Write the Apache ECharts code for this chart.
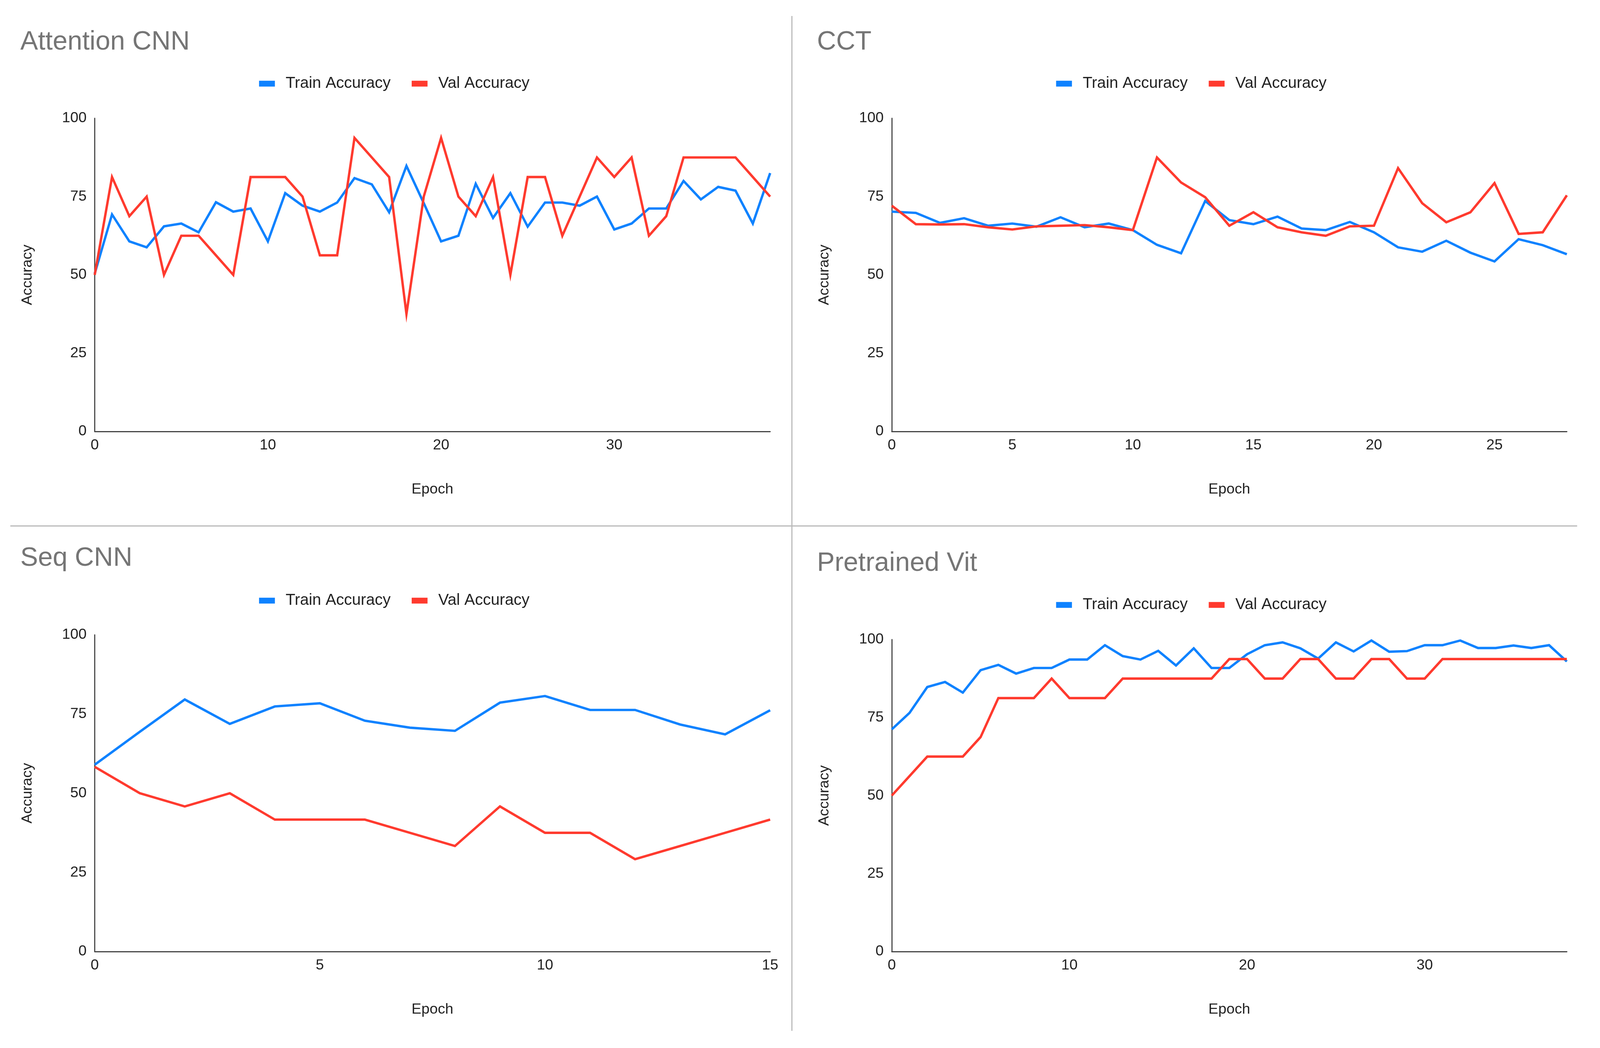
<!DOCTYPE html>
<html>
<head>
<meta charset="utf-8">
<script src="https://cdn.jsdelivr.net/npm/echarts@6/dist/echarts.min.js"></script>
<style>
html,body{margin:0;padding:0;background:#fff;overflow:hidden;}
#chart{position:absolute;left:0;top:0;}
</style>
</head>
<body>
<div id="chart"></div>
<script>
// ---- data ----
const titles = ['Attention CNN', 'CCT', 'Seq CNN', 'Pretrained Vit'];
const seriesNames = ['Train Accuracy', 'Val Accuracy'];
const xAxisName = 'Epoch';
const yAxisName = 'Accuracy';
const yTicks = [0, 25, 50, 75, 100];

const attTrain = [50.4, 69.3, 60.7, 58.8, 65.5, 66.4, 63.6, 73.2, 70.2, 71.2,
  60.7, 76.1, 72.1, 70.2, 73.1, 80.9, 78.9, 70.0, 84.8, 72.9,
  60.7, 62.5, 79.1, 68.2, 76.1, 65.4, 73.1, 73.1, 72.1, 75.0,
  64.5, 66.4, 71.2, 71.2, 80.0, 74.1, 78.1, 76.9, 66.4, 82.5];
const attVal = [50, 81.25, 68.75, 75, 50, 62.5, 62.5, 56.25, 50, 81.25,
  81.25, 81.25, 75, 56.25, 56.25, 93.75, 87.5, 81.25, 37.5, 75,
  93.75, 75, 68.75, 81.25, 50, 81.25, 81.25, 62.5, 75, 87.5,
  81.25, 87.5, 62.5, 68.75, 87.5, 87.5, 87.5, 87.5, 81.25, 75];

const cctTrain = [70.2, 69.8, 66.6, 68.1, 65.7, 66.4, 65.4, 68.4, 65.2, 66.4,
  64.3, 59.6, 56.9, 73.6, 67.5, 66.2, 68.6, 64.8, 64.3, 66.9,
  63.6, 58.8, 57.4, 60.9, 57.1, 54.3, 61.4, 59.5, 56.6];
const cctVal = [72.1, 66.2, 66.1, 66.2, 65.2, 64.5, 65.5, 65.7, 65.9, 65.2,
  64.3, 87.5, 79.5, 74.8, 65.7, 70, 65.2, 63.6, 62.5, 65.5,
  65.7, 84.1, 72.9, 66.8, 70, 79.3, 63.1, 63.6, 75.4];

const seqTrain = [59, 69.4, 79.6, 71.9, 77.4, 78.4, 72.9, 70.7, 69.7, 78.6,
  80.7, 76.3, 76.3, 71.7, 68.6, 76.2];
const seqVal = [58.33, 50, 45.83, 50, 41.67, 41.67, 41.67, 37.5, 33.33, 45.83,
  37.5, 37.5, 29.17, 33.33, 37.5, 41.67];

const vitTrain = [71.2, 76.5, 84.8, 86.4, 83, 90.2, 91.9, 89.1, 90.9, 90.9,
  93.6, 93.6, 98.2, 94.7, 93.6, 96.4, 91.7, 97.2, 90.9, 90.9,
  95.3, 98.2, 99.1, 97.2, 93.9, 99.1, 96.2, 99.7, 96.1, 96.3,
  98.2, 98.2, 99.7, 97.3, 97.3, 98.1, 97.3, 98.2, 93];
const vitVal = [50, 56.25, 62.5, 62.5, 62.5, 68.75, 81.25, 81.25, 81.25, 87.5,
  81.25, 81.25, 81.25, 87.5, 87.5, 87.5, 87.5, 87.5, 87.5, 93.75,
  93.75, 87.5, 87.5, 93.75, 93.75, 87.5, 87.5, 93.75, 93.75, 87.5,
  87.5, 93.75, 93.75, 93.75, 93.75, 93.75, 93.75, 93.75, 93.75];

const xTickIntervals = [10, 5, 5, 10];

// ---- layout / style (designed for 4342 x 2684, scaled to the real viewport) ----
const VW = window.innerWidth || 4342;
const VH = window.innerHeight || 2684;
const SX = VW / 4342, SY = VH / 2684;
const sx = v => v * SX;
const sy = v => v * SY;
const sf = v => v * SX;

const FONT = '"Liberation Sans", Arial, sans-serif';
const BLUE = '#0f82ff';
const RED = '#ff3a2e';
const trains = [attTrain, cctTrain, seqTrain, vitTrain];
const vals = [attVal, cctVal, seqVal, vitVal];

const grids = [
  {left: 257, top: 303, width: 1833, height: 802},
  {left: 2420, top: 303, width: 1832, height: 802},
  {left: 257, top: 1626, width: 1833, height: 811},
  {left: 2420, top: 1638, width: 1832, height: 799}
];
const titlePos = [
  {left: 55, cy: 108}, {left: 2217, cy: 108},
  {left: 55, cy: 1430}, {left: 2217, cy: 1443}
];
const legendPos = [
  {left: 703, cy: 214}, {left: 2866, cy: 214},
  {left: 703, cy: 1538}, {left: 2866, cy: 1549}
];

const el = document.getElementById('chart');
el.style.width = VW + 'px';
el.style.height = VH + 'px';

const TF = sf(72), LF = sf(43), AF = sf(40);

const option = {
  backgroundColor: '#ffffff',
  animation: false,
  textStyle: {fontFamily: FONT},
  title: titles.map((t, i) => ({
    text: t, left: sx(titlePos[i].left), top: sy(titlePos[i].cy) - TF / 2, padding: 0,
    textStyle: {fontSize: TF, lineHeight: TF, fontWeight: 'normal', color: '#757575', fontFamily: FONT}
  })),
  legend: titles.map((t, i) => ({
    data: seriesNames, left: sx(legendPos[i].left), top: sy(legendPos[i].cy) - LF / 2, padding: 0,
    icon: 'rect', itemWidth: sx(43), itemHeight: sy(15), itemGap: sx(57),
    formatter: name => '  ' + name,
    textStyle: {fontSize: LF, lineHeight: LF, color: '#222', fontFamily: FONT},
    selectedMode: false
  })),
  grid: grids.map(g => ({left: sx(g.left), top: sy(g.top), width: sx(g.width), height: sy(g.height), containLabel: false})),
  xAxis: titles.map((t, i) => ({
    type: 'value', gridIndex: i, min: 0, max: trains[i].length - 1,
    interval: xTickIntervals[i],
    name: xAxisName, nameLocation: 'middle', nameGap: sy(130),
    nameTextStyle: {fontSize: AF, color: '#222', fontFamily: FONT},
    axisLine: {show: true, lineStyle: {color: '#444', width: sx(3)}},
    axisTick: {show: false},
    splitLine: {show: false},
    axisLabel: {
      fontSize: AF, color: '#222', margin: sy(17), fontFamily: FONT,
      formatter: v => (v % xTickIntervals[i] === 0 ? String(v) : '')
    }
  })),
  yAxis: titles.map((t, i) => ({
    type: 'value', gridIndex: i, min: yTicks[0], max: yTicks[yTicks.length - 1],
    interval: yTicks[1] - yTicks[0],
    name: yAxisName, nameLocation: 'middle', nameGap: sx(162),
    nameTextStyle: {fontSize: AF, color: '#222', fontFamily: FONT},
    axisLine: {show: true, lineStyle: {color: '#444', width: sx(3)}},
    axisTick: {show: false},
    splitLine: {show: false},
    axisLabel: {fontSize: AF, color: '#222', margin: sx(22), fontFamily: FONT}
  })),
  series: [],
  graphic: [
    {type: 'line', shape: {x1: sx(2149), y1: sy(41), x2: sx(2149), y2: sy(2640)},
     style: {stroke: '#b8b8b8', lineWidth: sx(3)}, silent: true},
    {type: 'line', shape: {x1: sx(28), y1: sy(1347), x2: sx(4280), y2: sy(1347)},
     style: {stroke: '#b8b8b8', lineWidth: sx(3)}, silent: true}
  ]
};

titles.forEach((t, i) => {
  [trains[i], vals[i]].forEach((arr, k) => {
    option.series.push({
      name: seriesNames[k], type: 'line', xAxisIndex: i, yAxisIndex: i,
      data: arr.map((v, e) => [e, v]),
      showSymbol: false, symbol: 'none', smooth: false,
      color: k === 0 ? BLUE : RED,
      lineStyle: {width: sx(6.5), color: k === 0 ? BLUE : RED, join: 'miter'},
      z: 2 + k
    });
  });
});

const chart = echarts.init(el, null, {renderer: 'canvas'});
chart.setOption(option);
</script>
</body>
</html>
